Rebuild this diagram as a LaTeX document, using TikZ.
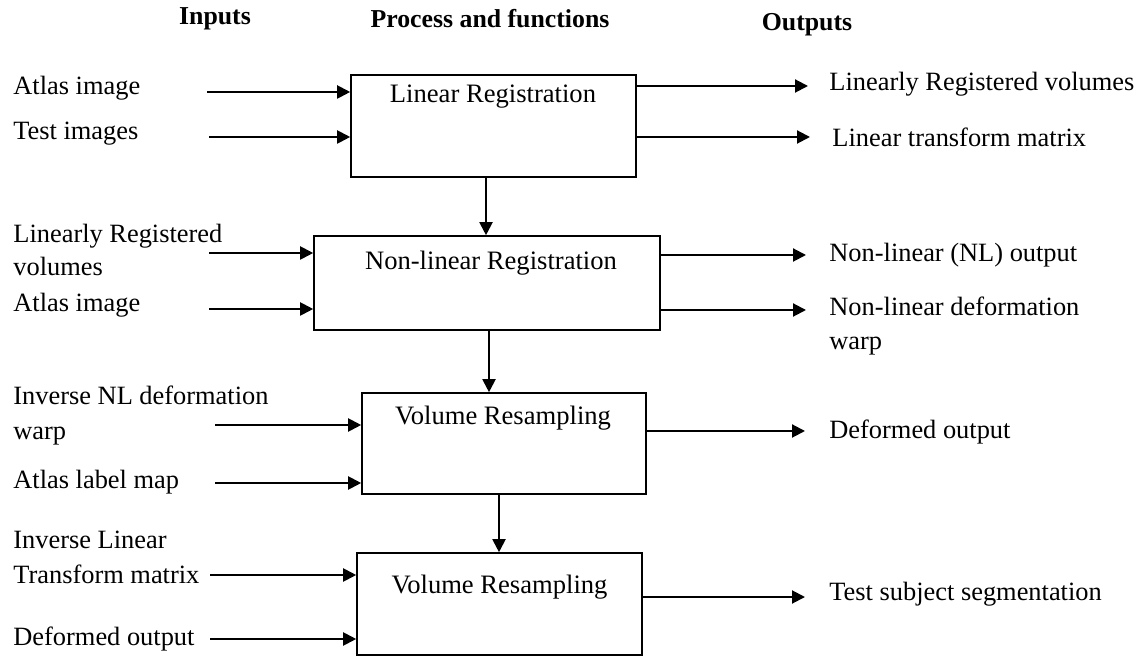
\documentclass[tikz,border=0pt]{standalone}
\usepackage{fontspec}
\setmainfont{Liberation Serif}
\usetikzlibrary{arrows.meta}
\begin{document}
\begin{tikzpicture}[x=0.5pt,y=-0.5pt]
              \tikzstyle{every node}+=[inner sep=0pt]
              \tikzstyle{intxt}=[font=\fontsize{13.2}{20}\selectfont, anchor=west, align=left]
              \tikzstyle{outtxt}=[font=\fontsize{13.2}{20}\selectfont, anchor=west, align=left]
              \tikzstyle{boxtxt}=[font=\fontsize{13.3}{16}\selectfont]
              \tikzstyle{head}=[font=\fontsize{12.9}{15}\selectfont\bfseries]
              \tikzstyle{procbox}=[draw, line width=0.8pt, rectangle]
              \tikzstyle{arr}=[line width=1pt, -{Triangle[length=6.5pt,width=6.5pt]}]
              \useasboundingbox (0,0) rectangle (1144,656);
              \node[head] (hin) at (215,19) {Inputs};
              \node[head] (hproc) at (490,19) {Process and functions};
              \node[head] (hout) at (807,25) {Outputs};
              \node[procbox, minimum width=142.5pt, minimum height=51pt] (b1) at (493.5,126) {};
              \node[boxtxt] (t1) at (493,97) {Linear Registration};
              \node[procbox, minimum width=173pt, minimum height=47pt] (b2) at (487,283) {};
              \node[boxtxt] (t2) at (491,263) {Non-linear Registration};
              \node[procbox, minimum width=142pt, minimum height=50.5pt] (b3) at (504,443.5) {};
              \node[boxtxt] (t3) at (503,418) {Volume Resampling};
              \node[procbox, minimum width=142.5pt, minimum height=51pt] (b4) at (499.5,604) {};
              \node[boxtxt] (t4) at (499.5,587) {Volume Resampling};
              \coordinate (d1) at (486,0);
              \coordinate (d2) at (489,0);
              \coordinate (d3) at (499,0);
              \draw[arr] (b1.south -| d1) -- (b2.north -| d1);
              \draw[arr] (b2.south -| d2) -- (b3.north -| d2);
              \draw[arr] (b3.south -| d3) -- (b4.north -| d3);
              \node[intxt] (in1) at (13,88) {Atlas image};
              \node[intxt] (in2) at (13,134) {Test images};
              \node[intxt] (in3) at (13,250) {Linearly Registered\\[-3.5pt]volumes};
              \node[intxt] (in4) at (13,305) {Atlas image};
              \node[intxt] (in5) at (13,416) {Inverse NL deformation\\[-2.5pt]warp};
              \node[intxt] (in6) at (13,482) {Atlas label map};
              \node[intxt] (in7) at (13,557) {Inverse Linear\\[-2.5pt]Transform matrix};
              \node[intxt] (in8) at (13,639) {Deformed output};
              \coordinate (s1) at (207,92);
              \coordinate (s2) at (209,137);
              \coordinate (s3) at (209,253);
              \coordinate (s4) at (209,309);
              \coordinate (s5) at (215,425);
              \coordinate (s6) at (215,483);
              \coordinate (s7) at (210,575);
              \coordinate (s8) at (210,639);
              \draw[arr] (s1) -- (s1 -| b1.west);
              \draw[arr] (s2) -- (s2 -| b1.west);
              \draw[arr] (s3) -- (s3 -| b2.west);
              \draw[arr] (s4) -- (s4 -| b2.west);
              \draw[arr] (s5) -- (s5 -| b3.west);
              \draw[arr] (s6) -- (s6 -| b3.west);
              \draw[arr] (s7) -- (s7 -| b4.west);
              \draw[arr] (s8) -- (s8 -| b4.west);
              \coordinate (e1) at (808,86);
              \coordinate (e2) at (810,137);
              \coordinate (e3) at (806,255);
              \coordinate (e4) at (806,310);
              \coordinate (e5) at (805,431);
              \coordinate (e6) at (805,597);
              \draw[arr] (e1 -| b1.east) -- (e1);
              \draw[arr] (e2 -| b1.east) -- (e2);
              \draw[arr] (e3 -| b2.east) -- (e3);
              \draw[arr] (e4 -| b2.east) -- (e4);
              \draw[arr] (e5 -| b3.east) -- (e5);
              \draw[arr] (e6 -| b4.east) -- (e6);
              \node[outtxt] (out1) at (829,84) {Linearly Registered volumes};
              \node[outtxt] (out2) at (832,137) {Linear transform matrix};
              \node[outtxt] (out3) at (829,255) {Non-linear (NL) output};
              \node[outtxt] (out4) at (829,326) {Non-linear deformation\\[-3pt]warp};
              \node[outtxt] (out5) at (829,432) {Deformed output};
              \node[outtxt] (out6) at (829,594) {Test subject segmentation};
            \end{tikzpicture}
\end{document}
